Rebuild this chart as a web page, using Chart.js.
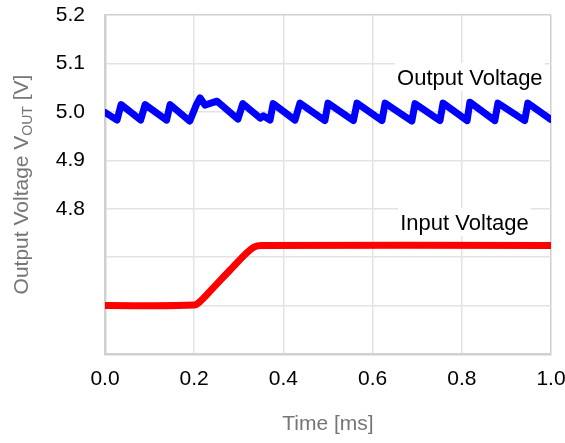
<!DOCTYPE html>
<html>
<head>
<meta charset="utf-8">
<script src="https://cdn.jsdelivr.net/npm/chart.js@4"></script>
<style>
  body { margin: 0; background: #fff; }
  canvas { display: block; }
</style>
</head>
<body>
<canvas id="plotVout" width="565" height="443"></canvas>
<script>
// time axis in ms, voltages in V
var outTime = [0.000, 0.027, 0.036, 0.080, 0.090, 0.138, 0.146, 0.190, 0.205, 0.213, 0.224, 0.251,
    0.298, 0.309, 0.348, 0.355, 0.370, 0.377, 0.426, 0.437, 0.493, 0.500, 0.557, 0.565,
    0.621, 0.628, 0.688, 0.695, 0.751, 0.758, 0.812, 0.818, 0.874, 0.881, 0.941, 0.948, 1.000];
var outVolt = [4.999, 4.983, 5.015, 4.983, 5.015, 4.983, 5.015, 4.981, 5.015, 5.029, 5.014, 5.022,
    4.985, 5.017, 4.987, 4.992, 4.983, 5.017, 4.983, 5.018, 4.982, 5.018, 4.982, 5.018,
    4.982, 5.018, 4.981, 5.017, 4.982, 5.018, 4.982, 5.020, 4.982, 5.018, 4.982, 5.018, 4.984];

var inTime = [0.000, 0.200, 0.215, 0.242, 0.280, 0.318, 0.335, 0.350, 1.000];
var inVolt = [4.600, 4.601, 4.610, 4.636, 4.673, 4.709, 4.721, 4.724, 4.724];

var xTicks = [0.0, 0.2, 0.4, 0.6, 0.8, 1.0];
var yLabelled = [4.8, 4.9, 5.0, 5.1, 5.2];

function toPoints(xs, ys) {
    return xs.map(function (x, i) { return { x: x, y: ys[i] }; });
}

var fontName = "'Liberation Sans', Arial, sans-serif";

// y title with the OUT subscript, plus the two white-boxed trace labels
var extraText = {
    id: 'extraText',
    afterDatasetsDraw: function (chart) {
        var c = chart.ctx, xs = chart.scales.x, ys = chart.scales.y;
        var labels = [
            { text: 'Output Voltage', t: 0.818, v: 5.0555 },
            { text: 'Input Voltage', t: 0.806, v: 4.756 }
        ];
        c.save();
        c.font = '22px ' + fontName;
        c.textAlign = 'center';
        c.textBaseline = 'alphabetic';
        labels.forEach(function (l) {
            var px = xs.getPixelForValue(l.t), py = ys.getPixelForValue(l.v);
            var w = c.measureText(l.text).width;
            c.fillStyle = '#fff';
            c.fillRect(px - w / 2 - 2, py - 22, w + 4, 28);
            c.fillStyle = '#000';
            c.fillText(l.text, px, py);
        });
        c.restore();

        // rotated axis title
        var a = chart.chartArea;
        var parts = [['Output Voltage V', 21, 0], ['OUT', 14, 4], [' [V]', 21, 0]];
        c.save();
        c.translate(28, (a.top + a.bottom) / 2);
        c.rotate(-Math.PI / 2);
        c.fillStyle = '#767676';
        c.textBaseline = 'alphabetic';
        c.textAlign = 'left';
        var total = 0;
        parts.forEach(function (p) { c.font = p[1] + 'px ' + fontName; total += c.measureText(p[0]).width; });
        var x = -total / 2;
        parts.forEach(function (p) {
            c.font = p[1] + 'px ' + fontName;
            c.fillText(p[0], x, p[2]);
            x += c.measureText(p[0]).width;
        });
        c.restore();
    }
};

new Chart(document.getElementById('plotVout'), {
    type: 'line',
    data: {
        datasets: [
            {
                label: 'Output Voltage',
                data: toPoints(outTime, outVolt),
                borderColor: '#0000ff',
                borderWidth: 7,
                borderJoinStyle: 'round',
                borderCapStyle: 'round',
                pointRadius: 0,
                tension: 0
            },
            {
                label: 'Input Voltage',
                data: toPoints(inTime, inVolt),
                borderColor: '#ff0000',
                borderWidth: 7,
                pointRadius: 0,
                tension: 0.3
            }
        ]
    },
    options: {
        responsive: false,
        animation: false,
        devicePixelRatio: 1,
        layout: { padding: { top: 15, right: 14, left: 0, bottom: 0 } },
        plugins: { legend: { display: false }, tooltip: { enabled: false } },
        scales: {
            x: {
                type: 'linear',
                min: 0,
                max: 1,
                afterBuildTicks: function (s) { s.ticks = xTicks.map(function (v) { return { value: v }; }); },
                afterFit: function (s) { s.height = 89; s.paddingLeft = 0; s.paddingRight = 0; },
                ticks: {
                    color: '#000',
                    padding: 13,
                    maxRotation: 0,
                    font: { family: fontName, size: 21 },
                    callback: function (v) { return v.toFixed(1); }
                },
                grid: {
                    drawTicks: false,
                    lineWidth: 1.5,
                    color: function (ctx) { return ctx.tick && ctx.tick.value === 1 ? '#cfcfcf' : '#e3e3e3'; }
                },
                border: { color: '#d0d0d0', width: 2.5 },
                title: {
                    display: true,
                    text: 'Time [ms]',
                    color: '#767676',
                    font: { family: fontName, size: 21 },
                    padding: { top: 0, bottom: 6 }
                }
            },
            y: {
                min: 4.5,
                max: 5.2,
                ticks: {
                    stepSize: 0.1,
                    color: '#000',
                    padding: 20,
                    font: { family: fontName, size: 21 },
                    callback: function (v) {
                        var s = Number(v).toFixed(1);
                        return yLabelled.indexOf(Number(s)) >= 0 ? s : '';
                    }
                },
                afterFit: function (s) { s.width = 105; s.paddingTop = 0; s.paddingBottom = 0; },
                grid: {
                    drawTicks: false,
                    lineWidth: 1.5,
                    color: function (ctx) { return ctx.tick && Math.abs(ctx.tick.value - 5.2) < 1e-6 ? '#cfcfcf' : '#e3e3e3'; }
                },
                border: { color: '#d0d0d0', width: 2.5 }
            }
        }
    },
    plugins: [extraText]
});
</script>
</body>
</html>
